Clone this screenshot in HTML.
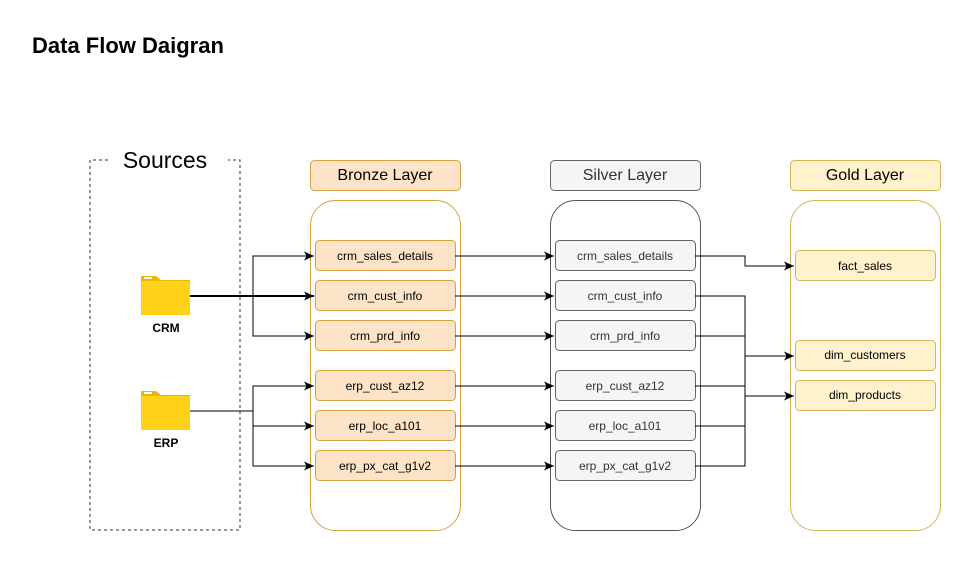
<!DOCTYPE html>
<html><head><meta charset="utf-8"><style>
body{margin:0;background:#fff;}
svg{display:block;font-family:"Liberation Sans",Arial,sans-serif;}
</style></head><body>
<svg width="971" height="561" viewBox="0 0 971 561" xmlns="http://www.w3.org/2000/svg">
<defs>
<marker id="a" markerWidth="12" markerHeight="12" refX="10" refY="6" orient="auto" markerUnits="userSpaceOnUse">
<path d="M0,1.5 L10,6 L0,10.5 L2.5,6 Z" fill="#000"/></marker>
</defs>
<text x="32" y="53" font-size="22" font-weight="bold">Data Flow Daigran</text>

<!-- Sources -->
<path d="M108,160 H90 V530 H240 V160 H228" fill="none" stroke="#333" stroke-dasharray="3,3"/>
<text x="165" y="168" font-size="23" text-anchor="middle">Sources</text>

<!-- folders -->
<g>
<path d="M141,276 h15 l5,4 h29 v35 h-49 z" fill="#f0b400"/>
<rect x="141" y="281" width="49" height="34" fill="#ffd21a"/>
<rect x="144" y="277" width="8" height="2" fill="#fff"/>
<text x="166" y="332" font-size="12" font-weight="bold" text-anchor="middle">CRM</text>
<path d="M141,391 h15 l5,4 h29 v35 h-49 z" fill="#f0b400"/>
<rect x="141" y="396" width="49" height="34" fill="#ffd21a"/>
<rect x="144" y="392" width="8" height="2" fill="#fff"/>
<text x="166" y="447" font-size="12" font-weight="bold" text-anchor="middle">ERP</text>
</g>

<!-- headers -->
<rect x="310.5" y="160.5" width="150" height="30" rx="4" fill="#fde4c8" stroke="#d9a040"/>
<text x="385" y="180" font-size="16" text-anchor="middle">Bronze Layer</text>
<rect x="550.5" y="160.5" width="150" height="30" rx="4" fill="#f5f5f5" stroke="#666"/>
<text x="625" y="180" font-size="16" text-anchor="middle" fill="#333">Silver Layer</text>
<rect x="790.5" y="160.5" width="150" height="30" rx="4" fill="#fff2cc" stroke="#d6b656"/>
<text x="865" y="180" font-size="16" text-anchor="middle">Gold Layer</text>

<!-- containers -->
<rect x="310.5" y="200.5" width="150" height="330" rx="25" fill="#fff" stroke="#d9a040"/>
<rect x="550.5" y="200.5" width="150" height="330" rx="25" fill="#fff" stroke="#555"/>
<rect x="790.5" y="200.5" width="150" height="330" rx="25" fill="#fff" stroke="#d6b656"/>

<g font-size="12" text-anchor="middle">
<rect x="315.5" y="240.5" width="140" height="30" rx="4" fill="#fde4c8" stroke="#d9a040"/><text x="385" y="260">crm_sales_details</text>
<rect x="315.5" y="280.5" width="140" height="30" rx="4" fill="#fde4c8" stroke="#d9a040"/><text x="385" y="300">crm_cust_info</text>
<rect x="315.5" y="320.5" width="140" height="30" rx="4" fill="#fde4c8" stroke="#d9a040"/><text x="385" y="340">crm_prd_info</text>
<rect x="315.5" y="370.5" width="140" height="30" rx="4" fill="#fde4c8" stroke="#d9a040"/><text x="385" y="390">erp_cust_az12</text>
<rect x="315.5" y="410.5" width="140" height="30" rx="4" fill="#fde4c8" stroke="#d9a040"/><text x="385" y="430">erp_loc_a101</text>
<rect x="315.5" y="450.5" width="140" height="30" rx="4" fill="#fde4c8" stroke="#d9a040"/><text x="385" y="470">erp_px_cat_g1v2</text>
</g>
<g font-size="12" text-anchor="middle" fill="#333">
<rect x="555.5" y="240.5" width="140" height="30" rx="4" fill="#f5f5f5" stroke="#666"/><text x="625" y="260">crm_sales_details</text>
<rect x="555.5" y="280.5" width="140" height="30" rx="4" fill="#f5f5f5" stroke="#666"/><text x="625" y="300">crm_cust_info</text>
<rect x="555.5" y="320.5" width="140" height="30" rx="4" fill="#f5f5f5" stroke="#666"/><text x="625" y="340">crm_prd_info</text>
<rect x="555.5" y="370.5" width="140" height="30" rx="4" fill="#f5f5f5" stroke="#666"/><text x="625" y="390">erp_cust_az12</text>
<rect x="555.5" y="410.5" width="140" height="30" rx="4" fill="#f5f5f5" stroke="#666"/><text x="625" y="430">erp_loc_a101</text>
<rect x="555.5" y="450.5" width="140" height="30" rx="4" fill="#f5f5f5" stroke="#666"/><text x="625" y="470">erp_px_cat_g1v2</text>
</g>
<g font-size="12" text-anchor="middle">
<rect x="795.5" y="250.5" width="140" height="30" rx="4" fill="#fff2cc" stroke="#d6b656"/><text x="865" y="270">fact_sales</text>
<rect x="795.5" y="340.5" width="140" height="30" rx="4" fill="#fff2cc" stroke="#d6b656"/><text x="865" y="359">dim_customers</text>
<rect x="795.5" y="380.5" width="140" height="30" rx="4" fill="#fff2cc" stroke="#d6b656"/><text x="865" y="399">dim_products</text>
</g>

<g fill="none" stroke="#000" stroke-width="1">
<path d="M190,296 H314" stroke-width="2" marker-end="url(#a)"/>
<path d="M253,296 V256 H314" marker-end="url(#a)"/>
<path d="M253,296 V336 H314" marker-end="url(#a)"/>
<path d="M190,411 H253 V386 H314" marker-end="url(#a)"/>
<path d="M253,411 V426 H314" marker-end="url(#a)"/>
<path d="M253,426 V466 H314" marker-end="url(#a)"/>
<path d="M455,256 H554" marker-end="url(#a)"/>
<path d="M455,296 H554" marker-end="url(#a)"/>
<path d="M455,336 H554" marker-end="url(#a)"/>
<path d="M455,386 H554" marker-end="url(#a)"/>
<path d="M455,426 H554" marker-end="url(#a)"/>
<path d="M455,466 H554" marker-end="url(#a)"/>
<path d="M695,256 H745 V266 H794" marker-end="url(#a)"/>
<path d="M695,296 H745 V466 H695"/>
<path d="M695,336 H745"/>
<path d="M695,386 H745"/>
<path d="M695,426 H745"/>
<path d="M745,356 H794" marker-end="url(#a)"/>
<path d="M745,396 H794" marker-end="url(#a)"/>
</g>
</svg>
</body></html>
